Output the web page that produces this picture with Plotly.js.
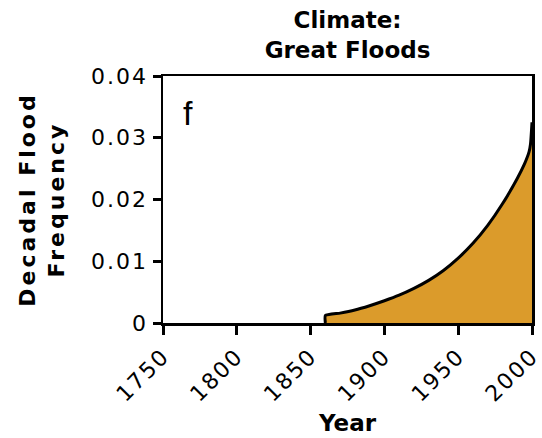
<!DOCTYPE html>
<html>
<head>
<meta charset="utf-8">
<script src="https://cdn.plot.ly/plotly-3.0.1.min.js"></script>
<style>
  html, body { margin: 0; padding: 0; background: #fff; }
  #chart { width: 542px; height: 438px; }
  .xtick text, .ytick text { letter-spacing: 2px; }
  .g-ytitle text { letter-spacing: 3px; }
</style>
</head>
<body>
<div id="chart"></div>
<script>
// Data
const years = [1860, 1860, 1870, 1880, 1890, 1900, 1910, 1920, 1930, 1940, 1950, 1960, 1970, 1980, 1990, 1995, 1998, 1999, 2000];
const floodFreq = [0, 0.0012, 0.0016, 0.0021, 0.0028, 0.0036, 0.0045, 0.0056, 0.0069, 0.0085, 0.0105, 0.0129, 0.0158, 0.0193, 0.0234, 0.0258, 0.0277, 0.0290, 0.0325];
const xTickVals = [1750, 1800, 1850, 1900, 1950, 2000];
const xTickText = ['1750', '1800', '1850', '1900', '1950', '2000'];
const yTickVals = [0, 0.01, 0.02, 0.03, 0.04];
const yTickText = ['0', '0.01', '0.02', '0.03', '0.04'];

const trace = {
  x: years,
  y: floodFreq,
  type: 'scatter',
  mode: 'lines',
  fill: 'tozeroy',
  fillcolor: '#DB9B2B',
  line: { color: '#000', width: 3, shape: 'spline', smoothing: 0.5 },
  hoverinfo: 'skip'
};

const layout = {
  width: 542,
  height: 438,
  margin: { l: 163, r: 10, t: 76, b: 115 },
  paper_bgcolor: '#fff',
  plot_bgcolor: '#fff',
  showlegend: false,
  font: { family: 'DejaVu Sans, Arial, sans-serif', color: '#000' },
  title: {
    text: 'Climate:<br>Great Floods',
    font: { family: 'DejaVu Sans', size: 23, weight: 'bold', color: '#000' },
    x: 0.5, xref: 'paper', xanchor: 'center',
    y: 0.935, yref: 'container', yanchor: 'bottom'
  },
  xaxis: {
    range: [1750, 2000],
    tickvals: xTickVals,
    ticktext: xTickText,
    tickangle: -45,
    ticklabeloverflow: 'allow',
    ticks: 'outside', ticklen: 9, tickwidth: 3, tickcolor: '#000',
    tickfont: { family: 'DejaVu Sans', size: 22, color: '#000' },
    showline: true, linecolor: '#000', linewidth: 2.5, mirror: true,
    showgrid: false, zeroline: false, fixedrange: true,
    title: { text: 'Year', font: { family: 'DejaVu Sans', size: 23, weight: 'bold', color: '#000' }, standoff: 10 }
  },
  yaxis: {
    range: [0, 0.04],
    tickvals: yTickVals,
    ticktext: yTickText,
    ticklabeloverflow: 'allow',
    ticks: 'outside', ticklen: 8, tickwidth: 3, tickcolor: '#000',
    tickfont: { family: 'DejaVu Sans', size: 22, color: '#000' },
    showline: true, linecolor: '#000', linewidth: 2.5, mirror: true,
    showgrid: false, zeroline: false, fixedrange: true,
    title: { text: 'Decadal Flood<br>Frequency', font: { family: 'DejaVu Sans', size: 22, weight: 'bold', color: '#000' }, standoff: 21 }
  },
  annotations: [{
    text: 'f', xref: 'paper', yref: 'paper', x: 0.05, y: 0.85,
    xanchor: 'left', yanchor: 'middle', showarrow: false,
    font: { family: 'Liberation Sans, Arial', size: 34, color: '#000' }
  }]
};

Plotly.newPlot('chart', [trace], layout, { staticPlot: true, displayModeBar: false });
</script>
</body>
</html>
